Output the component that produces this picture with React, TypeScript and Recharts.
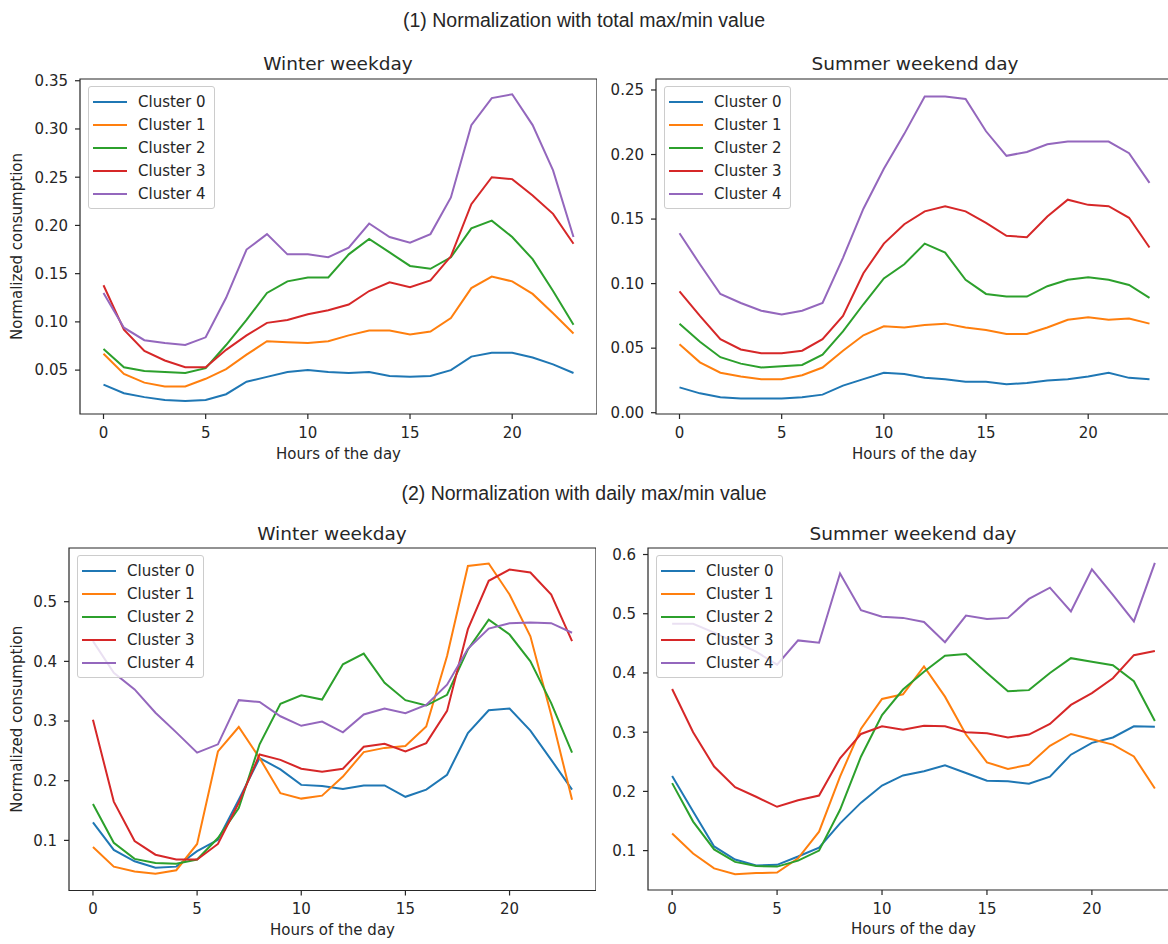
import React from "react";
import { LineChart, Line, XAxis, YAxis, ReferenceArea, Legend } from "recharts";

const hours = [0, 1, 2, 3, 4, 5, 6, 7, 8, 9, 10, 11, 12, 13, 14, 15, 16, 17, 18, 19, 20, 21, 22, 23];
const clusterNames = ["Cluster 0", "Cluster 1", "Cluster 2", "Cluster 3", "Cluster 4"];
const xTicks = [0, 5, 10, 15, 20];

// (1) total max/min, winter weekday
const totalWinter0 = [0.035, 0.026, 0.022, 0.019, 0.018, 0.019, 0.025, 0.038, 0.043, 0.048, 0.05, 0.048, 0.047, 0.048, 0.044, 0.043, 0.044, 0.05, 0.064, 0.068, 0.068, 0.063, 0.056, 0.047];
const totalWinter1 = [0.067, 0.046, 0.037, 0.033, 0.033, 0.041, 0.051, 0.066, 0.08, 0.079, 0.078, 0.08, 0.086, 0.091, 0.091, 0.087, 0.09, 0.104, 0.135, 0.147, 0.142, 0.129, 0.109, 0.088];
const totalWinter2 = [0.072, 0.053, 0.049, 0.048, 0.047, 0.052, 0.076, 0.102, 0.13, 0.142, 0.146, 0.146, 0.17, 0.186, 0.172, 0.158, 0.155, 0.167, 0.197, 0.205, 0.188, 0.165, 0.132, 0.097];
const totalWinter3 = [0.138, 0.092, 0.07, 0.06, 0.053, 0.053, 0.071, 0.086, 0.099, 0.102, 0.108, 0.112, 0.118, 0.132, 0.141, 0.136, 0.143, 0.168, 0.222, 0.25, 0.248, 0.231, 0.212, 0.181];
const totalWinter4 = [0.13, 0.094, 0.081, 0.078, 0.076, 0.084, 0.125, 0.175, 0.191, 0.17, 0.17, 0.167, 0.177, 0.202, 0.188, 0.182, 0.191, 0.229, 0.304, 0.332, 0.336, 0.304, 0.257, 0.188];

// (1) total max/min, summer weekend day
const totalSummer0 = [0.0196, 0.015, 0.012, 0.011, 0.011, 0.011, 0.012, 0.014, 0.021, 0.026, 0.031, 0.03, 0.027, 0.026, 0.024, 0.024, 0.022, 0.023, 0.025, 0.026, 0.028, 0.031, 0.027, 0.026];
const totalSummer1 = [0.053, 0.039, 0.031, 0.028, 0.026, 0.026, 0.029, 0.035, 0.048, 0.06, 0.067, 0.066, 0.068, 0.069, 0.066, 0.064, 0.061, 0.061, 0.066, 0.072, 0.074, 0.072, 0.073, 0.069];
const totalSummer2 = [0.069, 0.055, 0.043, 0.038, 0.035, 0.036, 0.037, 0.045, 0.063, 0.084, 0.104, 0.115, 0.131, 0.124, 0.103, 0.092, 0.09, 0.09, 0.098, 0.103, 0.105, 0.103, 0.099, 0.089];
const totalSummer3 = [0.094, 0.075, 0.057, 0.049, 0.046, 0.046, 0.048, 0.057, 0.075, 0.108, 0.131, 0.146, 0.156, 0.16, 0.156, 0.147, 0.137, 0.136, 0.152, 0.165, 0.161, 0.16, 0.151, 0.128];
const totalSummer4 = [0.139, 0.115, 0.092, 0.085, 0.079, 0.076, 0.079, 0.085, 0.12, 0.158, 0.189, 0.216, 0.245, 0.245, 0.243, 0.218, 0.199, 0.202, 0.208, 0.21, 0.21, 0.21, 0.201, 0.178];

// (2) daily max/min, winter weekday
const dailyWinter0 = [0.13, 0.084, 0.065, 0.054, 0.056, 0.082, 0.101, 0.168, 0.238, 0.219, 0.193, 0.191, 0.186, 0.192, 0.192, 0.173, 0.185, 0.21, 0.28, 0.318, 0.321, 0.284, 0.235, 0.185];
const dailyWinter1 = [0.089, 0.056, 0.048, 0.044, 0.05, 0.094, 0.249, 0.29, 0.238, 0.179, 0.17, 0.175, 0.207, 0.248, 0.255, 0.258, 0.291, 0.409, 0.56, 0.564, 0.512, 0.442, 0.31, 0.168];
const dailyWinter2 = [0.161, 0.096, 0.069, 0.062, 0.061, 0.068, 0.104, 0.154, 0.261, 0.329, 0.343, 0.336, 0.395, 0.413, 0.364, 0.335, 0.326, 0.344, 0.42, 0.47, 0.445, 0.4, 0.33, 0.247];
const dailyWinter3 = [0.302, 0.165, 0.099, 0.076, 0.068, 0.068, 0.094, 0.163, 0.244, 0.235, 0.22, 0.215, 0.22, 0.257, 0.262, 0.249, 0.263, 0.317, 0.454, 0.535, 0.554, 0.549, 0.512, 0.434];
const dailyWinter4 = [0.434, 0.381, 0.353, 0.314, 0.281, 0.247, 0.261, 0.335, 0.332, 0.308, 0.292, 0.299, 0.281, 0.311, 0.321, 0.313, 0.327, 0.361, 0.421, 0.455, 0.464, 0.465, 0.464, 0.448];

// (2) daily max/min, summer weekend day
const dailySummer0 = [0.226, 0.166, 0.107, 0.085, 0.075, 0.076, 0.09, 0.105, 0.146, 0.181, 0.21, 0.227, 0.234, 0.244, 0.231, 0.218, 0.217, 0.213, 0.225, 0.262, 0.282, 0.291, 0.31, 0.309];
const dailySummer1 = [0.129, 0.095, 0.07, 0.06, 0.062, 0.063, 0.087, 0.132, 0.225, 0.306, 0.356, 0.364, 0.411, 0.36, 0.296, 0.249, 0.238, 0.245, 0.277, 0.297, 0.288, 0.279, 0.259, 0.205];
const dailySummer2 = [0.214, 0.149, 0.102, 0.081, 0.074, 0.073, 0.083, 0.1, 0.169, 0.259, 0.329, 0.372, 0.402, 0.429, 0.432, 0.4, 0.369, 0.371, 0.4, 0.425, 0.419, 0.413, 0.386, 0.319];
const dailySummer3 = [0.373, 0.3, 0.242, 0.207, 0.191, 0.174, 0.185, 0.193, 0.256, 0.297, 0.31, 0.304, 0.311, 0.31, 0.3, 0.298, 0.291, 0.296, 0.314, 0.346, 0.366, 0.391, 0.43, 0.437];
const dailySummer4 = [0.483, 0.483, 0.468, 0.452, 0.436, 0.414, 0.455, 0.451, 0.568, 0.506, 0.495, 0.493, 0.486, 0.452, 0.497, 0.491, 0.493, 0.525, 0.544, 0.504, 0.575, 0.532, 0.487, 0.586];

const totalWinterTicks = [0.05, 0.1, 0.15, 0.2, 0.25, 0.3, 0.35];
const totalSummerTicks = [0, 0.05, 0.1, 0.15, 0.2, 0.25];
const dailyWinterTicks = [0.1, 0.2, 0.3, 0.4, 0.5];
const dailySummerTicks = [0.1, 0.2, 0.3, 0.4, 0.5, 0.6];

const colors = ["#1f77b4", "#ff7f0e", "#2ca02c", "#d62728", "#9467bd"];
const ink = "#262626";
const font = "'DejaVu Sans', sans-serif";
const xDomain: [number, number] = [-1.15, 24.15];

function renderLegend(props: any) {
  const items = props.payload || [];
  return (
    <div
      style={{
        background: "rgba(255,255,255,0.8)",
        border: "1px solid #cccccc",
        borderRadius: 3,
        padding: "3px 8px 3px 4px",
        fontFamily: font,
      }}
    >
      {items.map((p: any) => (
        <div key={p.value} style={{ display: "flex", alignItems: "center", height: 23 }}>
          <span style={{ display: "inline-block", width: 34, height: 2, background: p.color, marginRight: 11 }} />
          <span style={{ fontSize: 15, color: ink, whiteSpace: "nowrap" }}>{p.value}</span>
        </div>
      ))}
    </div>
  );
}

type PanelProps = {
  left: number;
  top: number;
  width: number;
  height: number;
  axisSpace: number;
  labelSpace: number;
  yDomain: [number, number];
  yTicks: number[];
  digits: number;
  series: number[][];
  yLabel?: boolean;
};

// extra room under the x label so its descenders are not clipped,
// and above the plot so the top tick label is not cut
const belowLabel = 8;
const abovePlot = 12;

function Panel({ left, top, width, height, axisSpace, labelSpace, yDomain, yTicks, digits, series, yLabel }: PanelProps) {
  const data = hours.map((h, i) => {
    const row: any = { hour: h };
    series.forEach((s, k) => {
      row["c" + k] = s[i];
    });
    return row;
  });

  return (
    <div style={{ position: "absolute", left: left - axisSpace, top: top - abovePlot }}>
      <LineChart
        width={axisSpace + width}
        height={abovePlot + height + labelSpace + belowLabel}
        data={data}
        margin={{ top: abovePlot, right: 0, bottom: 0, left: 0 }}
        style={{ fontFamily: font }}
      >
        <XAxis
          dataKey="hour"
          type="number"
          domain={xDomain}
          ticks={xTicks}
          allowDataOverflow
          axisLine={false}
          tickLine={{ stroke: ink, strokeWidth: 1.2 }}
          tickSize={5}
          tickMargin={8}
          height={labelSpace + belowLabel}
          tick={{ fontSize: 15, fill: ink, fontFamily: font }}
          label={{ value: "Hours of the day", position: "insideBottom", offset: belowLabel, fontSize: 15, fill: ink, fontFamily: font }}
        />
        <YAxis
          type="number"
          domain={yDomain}
          ticks={yTicks}
          allowDataOverflow
          axisLine={false}
          tickLine={{ stroke: ink, strokeWidth: 1.2 }}
          tickSize={5}
          tickMargin={7}
          width={axisSpace}
          tickFormatter={(v: number) => v.toFixed(digits)}
          tick={{ fontSize: 15, fill: ink, fontFamily: font }}
          label={
            yLabel
              ? {
                  value: "Normalized consumption",
                  angle: -90,
                  position: "insideLeft",
                  offset: 17,
                  fontSize: 15,
                  fill: ink,
                  fontFamily: font,
                  style: { textAnchor: "middle" },
                }
              : undefined
          }
        />
        <ReferenceArea
          x1={xDomain[0]}
          x2={xDomain[1]}
          y1={yDomain[0]}
          y2={yDomain[1]}
          fill="none"
          fillOpacity={0}
          stroke={ink}
          strokeWidth={1.2}
        />
        {series.map((_, k) => (
          <Line
            key={k}
            dataKey={"c" + k}
            name={clusterNames[k]}
            stroke={colors[k]}
            strokeWidth={2}
            dot={false}
            activeDot={false}
            isAnimationActive={false}
          />
        ))}
        <Legend
          layout="vertical"
          align="center"
          verticalAlign="middle"
          content={renderLegend}
          wrapperStyle={{ left: axisSpace + 8, top: abovePlot + 7, width: "auto", height: "auto", right: "auto", bottom: "auto" }}
        />
      </LineChart>
    </div>
  );
}

export default function App() {
  return (
    <div
      style={{
        position: "absolute",
        left: 0,
        top: 0,
        width: 1168,
        height: 944,
        overflow: "hidden",
        background: "#ffffff",
        fontFamily: font,
      }}
    >
      <svg width={1168} height={944} style={{ position: "absolute", left: 0, top: 0 }}>
        <text x={584} y={27} textAnchor="middle" fontSize={19.5} fill={ink} fontFamily="'Liberation Sans', Arial, sans-serif">
          (1) Normalization with total max/min value
        </text>
        <text x={584} y={500} textAnchor="middle" fontSize={19.5} fill={ink} fontFamily="'Liberation Sans', Arial, sans-serif">
          (2) Normalization with daily max/min value
        </text>
        <text x={338} y={70} textAnchor="middle" fontSize={18.5} fill={ink} fontFamily={font}>
          Winter weekday
        </text>
        <text x={915} y={70} textAnchor="middle" fontSize={18.5} fill={ink} fontFamily={font}>
          Summer weekend day
        </text>
        <text x={332} y={540} textAnchor="middle" fontSize={18.5} fill={ink} fontFamily={font}>
          Winter weekday
        </text>
        <text x={913} y={540} textAnchor="middle" fontSize={18.5} fill={ink} fontFamily={font}>
          Summer weekend day
        </text>
      </svg>

      <Panel
        left={80}
        top={79}
        width={517}
        height={335}
        axisSpace={80}
        labelSpace={45}
        yDomain={[0.0045, 0.3518]}
        yTicks={totalWinterTicks}
        digits={2}
        series={[totalWinter0, totalWinter1, totalWinter2, totalWinter3, totalWinter4]}
        yLabel
      />
      <Panel
        left={656}
        top={79}
        width={517}
        height={335}
        axisSpace={60}
        labelSpace={45}
        yDomain={[-0.001, 0.2585]}
        yTicks={totalSummerTicks}
        digits={2}
        series={[totalSummer0, totalSummer1, totalSummer2, totalSummer3, totalSummer4]}
      />
      <Panel
        left={69}
        top={548}
        width={527}
        height={342.5}
        axisSpace={69}
        labelSpace={44}
        yDomain={[0.016, 0.59]}
        yTicks={dailyWinterTicks}
        digits={1}
        series={[dailyWinter0, dailyWinter1, dailyWinter2, dailyWinter3, dailyWinter4]}
        yLabel
      />
      <Panel
        left={648}
        top={548}
        width={531}
        height={342}
        axisSpace={60}
        labelSpace={44}
        yDomain={[0.0335, 0.611]}
        yTicks={dailySummerTicks}
        digits={1}
        series={[dailySummer0, dailySummer1, dailySummer2, dailySummer3, dailySummer4]}
      />
    </div>
  );
}
